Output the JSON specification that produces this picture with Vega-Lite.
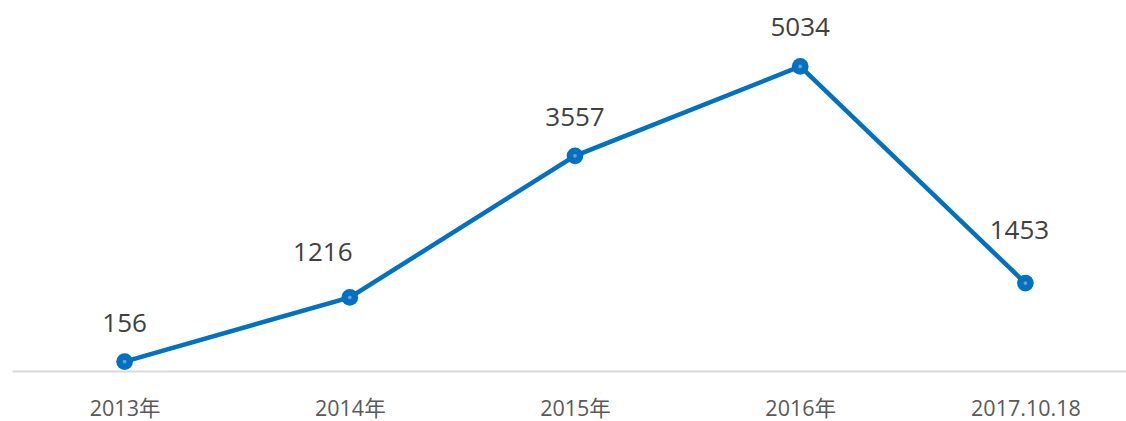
{
  "$schema": "https://vega.github.io/schema/vega-lite/v6.json",
  "autosize": "none",
  "width": 1126,
  "height": 363,
  "padding": {"left": 12, "top": 8, "right": 0, "bottom": 50},
  "background": "white",
  "config": {"view": {"stroke": null}},
  "data": {"values": [
    {"period": "2013年", "count": 156},
    {"period": "2014年", "count": 1216},
    {"period": "2015年", "count": 3557},
    {"period": "2016年", "count": 5034},
    {"period": "2017.10.18", "count": 1453}
  ]},
  "encoding": {
    "x": {"field": "period", "type": "ordinal", "sort": null,
      "scale": {"type": "point", "padding": 0.5},
      "axis": {"title": null, "ticks": false, "tickSize": 0, "grid": false,
        "domainColor": "#d9d9d9", "domainWidth": 2,
        "labelAngle": 0, "labelFont": "Open Sans, Noto Sans CJK SC", "labelFontSize": 21.5,
        "labelColor": "#595959", "labelBaseline": "alphabetic", "labelPadding": 44}},
    "y": {"field": "count", "type": "quantitative",
      "scale": {"domain": [0, 6000], "nice": false, "zero": true},
      "axis": null}
  },
  "layer": [
    {"mark": {"type": "line", "color": "#0070C0", "strokeWidth": 4.5}},
    {"mark": {"type": "point", "filled": true, "opacity": 1, "color": "#0070C0", "size": 280}},
    {"mark": {"type": "point", "filled": true, "opacity": 1, "color": "#6f9fd6", "size": 14}},
    {"transform": [{"filter": "datum.count == 156 || datum.count == 3557 || datum.count == 5034"}],
     "mark": {"type": "text", "font": "Open Sans", "fontSize": 26, "color": "#404040", "baseline": "alphabetic", "dy": -30},
     "encoding": {"text": {"field": "count", "type": "quantitative"}}},
    {"transform": [{"filter": "datum.count == 1216"}],
     "mark": {"type": "text", "font": "Open Sans", "fontSize": 26, "color": "#404040", "baseline": "alphabetic", "dy": -36, "dx": -27},
     "encoding": {"text": {"field": "count", "type": "quantitative"}}},
    {"transform": [{"filter": "datum.count == 1453"}],
     "mark": {"type": "text", "font": "Open Sans", "fontSize": 26, "color": "#404040", "baseline": "alphabetic", "dy": -44, "dx": -6},
     "encoding": {"text": {"field": "count", "type": "quantitative"}}}
  ]
}
